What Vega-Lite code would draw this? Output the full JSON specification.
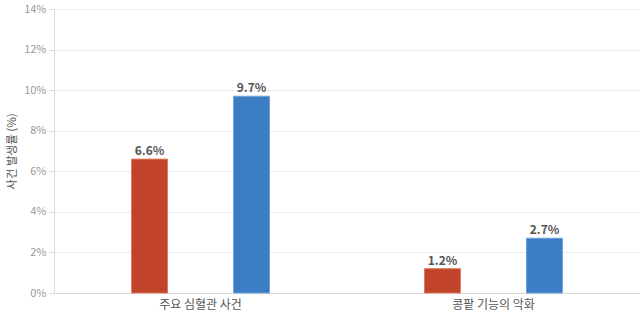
{
  "$schema": "https://vega.github.io/schema/vega-lite/v6.json",
  "width": 586,
  "height": 284,
  "autosize": {"type": "none"},
  "padding": {"left": 54, "top": 9, "right": 0, "bottom": 27},
  "config": {
    "font": "Noto Sans CJK KR",
    "view": {"stroke": null},
    "axis": {"labelFont": "Noto Sans CJK KR", "titleFont": "Noto Sans CJK KR"}
  },
  "data": {
    "values": [
      {"group": "주요 심혈관 사건", "series": "A", "value": 0.066},
      {"group": "주요 심혈관 사건", "series": "B", "value": 0.097},
      {"group": "콩팥 기능의 악화", "series": "A", "value": 0.012},
      {"group": "콩팥 기능의 악화", "series": "B", "value": 0.027}
    ]
  },
  "encoding": {
    "x": {
      "field": "group", "type": "nominal", "sort": null,
      "scale": {"paddingInner": 0, "paddingOuter": 0},
      "axis": {"title": null, "labelAngle": 0, "labelColor": "#555", "labelFontSize": 12, "ticks": false, "domainColor": "#d9d9d9", "labelPadding": 6}
    },
    "xOffset": {
      "field": "series", "type": "nominal",
      "scale": {"paddingInner": 0.647, "paddingOuter": 0.76}
    },
    "y": {
      "field": "value", "type": "quantitative",
      "scale": {"domain": [0, 0.14]},
      "axis": {
        "title": "사건 발생률 (%)", "titleColor": "#555", "titleFontSize": 11.5, "titleFontWeight": "normal", "titlePadding": 6,
        "format": ".0%", "values": [0, 0.02, 0.04, 0.06, 0.08, 0.1, 0.12, 0.14],
        "labelColor": "#999", "labelFontSize": 11,
        "gridColor": "#ececec", "domainColor": "#d9d9d9", "tickColor": "#d9d9d9", "tickSize": 5, "labelPadding": 3
      }
    }
  },
  "layer": [
    {
      "mark": {"type": "bar", "strokeWidth": 1},
      "encoding": {
        "color": {
          "field": "series", "type": "nominal",
          "scale": {"domain": ["A", "B"], "range": ["#C0432A", "#3A7DC4"]},
          "legend": null
        },
        "stroke": {
          "field": "series", "type": "nominal",
          "scale": {"domain": ["A", "B"], "range": ["#E07A60", "#6FA3DC"]},
          "legend": null
        }
      }
    },
    {
      "mark": {"type": "text", "dy": -8, "fontWeight": "bold", "fontSize": 12, "color": "#555"},
      "encoding": {
        "text": {"field": "value", "type": "quantitative", "format": ".1%"}
      }
    }
  ]
}
